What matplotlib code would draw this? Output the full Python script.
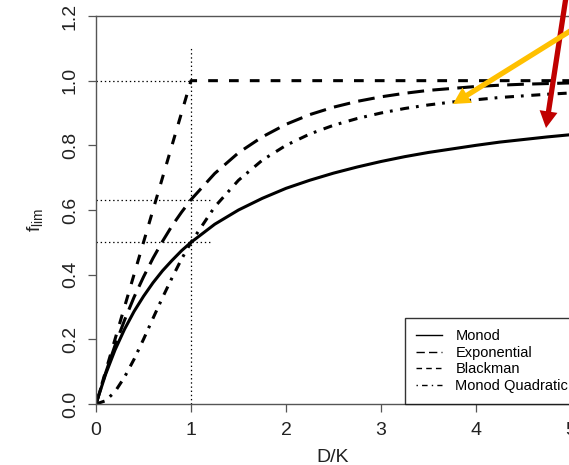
import matplotlib
matplotlib.use('Agg')
import matplotlib.pyplot as plt
from matplotlib.lines import Line2D
from matplotlib.patches import FancyArrowPatch, ArrowStyle

plt.rcParams['font.family'] = ['Liberation Sans', 'DejaVu Sans']
plt.rcParams['lines.scale_dashes'] = False

# D/K values and the four limitation curves
dk = [0, 0.1, 0.2, 0.3, 0.4, 0.5, 0.6, 0.7, 0.8, 0.9, 1.0,
      1.25, 1.5, 1.75, 2.0, 2.25, 2.5, 2.75, 3.0, 3.25, 3.5, 3.75,
      4.0, 4.25, 4.5, 4.75, 5.0]
monod = [0, 0.091, 0.167, 0.231, 0.286, 0.333, 0.375, 0.412, 0.444, 0.474, 0.5,
         0.556, 0.6, 0.636, 0.667, 0.692, 0.714, 0.733, 0.75, 0.765, 0.778, 0.789,
         0.8, 0.81, 0.818, 0.826, 0.833]
exponential = [0, 0.095, 0.181, 0.259, 0.33, 0.393, 0.451, 0.503, 0.551, 0.593, 0.632,
               0.713, 0.777, 0.826, 0.865, 0.895, 0.918, 0.936, 0.95, 0.961, 0.97, 0.976,
               0.982, 0.986, 0.989, 0.991, 0.993]
blackman = [0, 0.1, 0.2, 0.3, 0.4, 0.5, 0.6, 0.7, 0.8, 0.9, 1.0,
            1.0, 1.0, 1.0, 1.0, 1.0, 1.0, 1.0, 1.0, 1.0, 1.0, 1.0,
            1.0, 1.0, 1.0, 1.0, 1.0]
monod_quad = [0, 0.01, 0.038, 0.083, 0.138, 0.2, 0.265, 0.329, 0.39, 0.448, 0.5,
              0.61, 0.692, 0.754, 0.8, 0.835, 0.862, 0.883, 0.9, 0.914, 0.925, 0.934,
              0.941, 0.948, 0.953, 0.958, 0.962]
labels = ['Monod', 'Exponential', 'Blackman', 'Monod Quadratic']
xticks = [0, 1, 2, 3, 4, 5]
yticks = [0.0, 0.2, 0.4, 0.6, 0.8, 1.0, 1.2]

styles = ['-', (0, (12, 6)), (0, (7, 8)), (0, (6.5, 5, 2, 5.5))]

fig = plt.figure(figsize=(5.69, 4.65), dpi=100)
ax = fig.add_axes([96 / 569, 61 / 465, 475 / 569, 388 / 465])

# reference dotted lines
dot = dict(color='black', lw=0.9, ls=(0, (1, 2)))
ax.plot([1, 1], [0, 1.1], **dot)
ax.plot([0, 1], [1, 1], **dot)
ax.plot([0, 1.2], [0.632, 0.632], **dot)
ax.plot([0, 1.2], [0.5, 0.5], **dot)

for ys, st in zip([monod, exponential, blackman, monod_quad], styles):
    ax.plot(dk, ys, color='black', lw=2.2, ls=st)

ax.set_xlim(0, 5)
ax.set_ylim(0, 1.2)
ax.set_xticks(xticks)
ax.set_yticks(yticks)
ax.set_xticklabels([str(t) for t in xticks])
ax.set_yticklabels(['%.1f' % t for t in yticks])
for s in ax.spines.values():
    s.set_color('#555555')
    s.set_linewidth(1.0)
ax.tick_params(length=5.8, width=0.9, color='#555555', labelsize=14, labelcolor='#222222')
ax.tick_params(axis='x', pad=7.5)
ax.tick_params(axis='y', pad=6.5, labelrotation=90)
for lab in ax.get_yticklabels():
    lab.set_va('center')

fig.text(35 / 569, 245 / 465, r'$\mathregular{f_{lim}}$', rotation=90,
         ha='center', va='center', fontsize=14, color='#222222')
fig.text(333 / 569, 8 / 465, 'D/K', ha='center', va='center', fontsize=14,
         color='#222222')

handles = [Line2D([], [], color='black', lw=1.0, ls=st) for st in
           ['-', (0, (6, 3)), (0, (4, 3)), (0, (1, 3, 4, 3))]]
leg = ax.legend(handles, labels, loc='lower left',
                bbox_to_anchor=(405 / 569, 61 / 465), bbox_transform=fig.transFigure,
                fontsize=10.5, frameon=True, fancybox=False, borderaxespad=0,
                handlelength=1.8, handletextpad=0.9, labelspacing=0.18,
                borderpad=0.75)
leg.get_frame().set_edgecolor('black')
leg.get_frame().set_linewidth(1.0)

# the two overlaid arrows (pixel positions, y measured from top)
def arrow(x0, y0, x1, y1, color):
    st = ArrowStyle('simple', head_length=12, head_width=13, tail_width=3.8)
    p = FancyArrowPatch((x0 / 569, 1 - y0 / 465), (x1 / 569, 1 - y1 / 465),
                        transform=fig.transFigure, arrowstyle=st, color=color,
                        lw=0, shrinkA=0, shrinkB=0)
    fig.add_artist(p)

arrow(566, -3, 546, 128, '#C00000')
arrow(575, 28, 453, 104, '#FFC000')

fig.savefig('out.png', dpi=100)
